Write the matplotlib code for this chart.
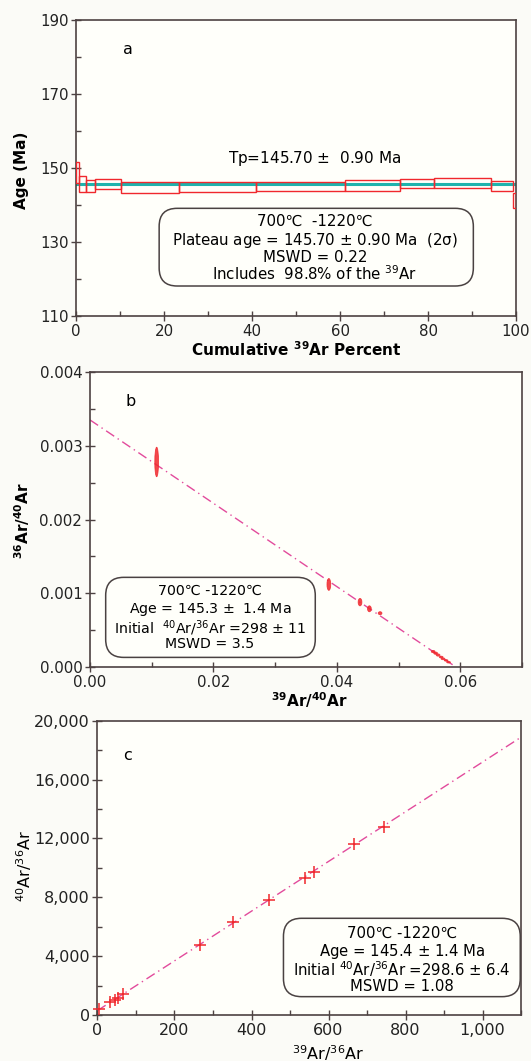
import numpy as np
import matplotlib
matplotlib.use("Agg")
import matplotlib.pyplot as plt
from matplotlib.patches import Rectangle, Ellipse, FancyBboxPatch
from matplotlib.ticker import MultipleLocator, FuncFormatter

plt.rcParams['font.family'] = ['DejaVu Sans']
plt.rcParams['mathtext.fontset'] = 'dejavusans'

# ---- a: age spectrum ----
step_bounds = [0, 0.7, 2.2, 4.3, 10.2, 23.5, 41.0, 61.1, 73.7, 81.3, 94.4, 99.2, 100]
step_ages = [148.8, 145.75, 145.2, 145.65, 144.7, 144.95, 145.05, 145.35, 145.8, 145.9, 145.2, 141.2]
step_errs = [2.8, 2.15, 1.6, 1.45, 1.4, 1.35, 1.25, 1.45, 1.3, 1.4, 1.3, 2.1]
plateau_age = 145.70
age_ticks = [110, 130, 150, 170, 190]

# ---- b: inverse isochron 36Ar/40Ar vs 39Ar/40Ar ----
inv_x = [0.0108, 0.0387, 0.04375, 0.04527, 0.0470, 0.0556, 0.0560, 0.0564, 0.0569, 0.0572, 0.0577, 0.0581]
inv_y = [0.00278, 0.00112, 0.00088, 0.00079, 0.00073, 0.00021, 0.000188, 0.000163, 0.000135, 0.000112, 0.00009, 0.000065]
inv_h = [0.0002, 0.00008, 0.00005, 0.00004, 0.00002, 0.000015, 0.000015, 0.000015, 0.000012, 0.000012, 0.00001, 0.00001]
inv_line_x = [0.0, 0.0593]
inv_line_y = [0.00335, 0.0]

# ---- c: normal isochron 40Ar/36Ar vs 39Ar/36Ar ----
iso_x = [4, 33, 46, 54, 67, 267, 353, 446, 538, 562, 667, 744]
iso_y = [380, 905, 1020, 1175, 1430, 4760, 6300, 7815, 9290, 9720, 11600, 12800]
iso_line_x = [0, 1100]
iso_line_y = [299, 18880]

bg = '#fffffa'
spine_c = '#4d4242'
red = '#f0282d'
pink = '#e24b9c'

fig = plt.figure(figsize=(5.31, 10.61), dpi=100, facecolor='#fbfbf7')
ax1 = fig.add_axes([0.1431, 0.7022, 0.8287, 0.2789])
ax2 = fig.add_axes([0.1695, 0.3713, 0.8136, 0.2781])
ax3 = fig.add_axes([0.1836, 0.0434, 0.7976, 0.2773])


def style(ax, lsize=10.8):
    ax.set_facecolor(bg)
    for s in ax.spines.values():
        s.set_color(spine_c)
        s.set_linewidth(1.2)
    ax.tick_params(which='major', direction='inout', length=7, width=1, color=spine_c,
                   labelsize=lsize, labelcolor='#222222', pad=2)
    ax.tick_params(which='minor', direction='in', length=3.5, width=1, color=spine_c)


def rbox(ax, x0, y0, x1, y1, rad=0.18):
    (px0, py0), (px1, py1) = ax.transData.transform([(x0, y0), (x1, y1)])
    d = fig.dpi
    box = FancyBboxPatch((px0 / d, py0 / d), (px1 - px0) / d, (py1 - py0) / d,
                         boxstyle=f"round,pad=0,rounding_size={rad}",
                         transform=fig.dpi_scale_trans, fc='none', ec='#4a4242', lw=1.1)
    fig.add_artist(box)


# ---------- panel a ----------
style(ax1)
ax1.set_xlim(0, 100)
ax1.set_ylim(110, 190)
for i in range(len(step_ages)):
    x0, x1 = step_bounds[i], step_bounds[i + 1]
    ax1.add_patch(Rectangle((x0, step_ages[i] - step_errs[i]), x1 - x0, 2 * step_errs[i],
                            fc='none', ec=red, lw=1.0, zorder=3))
ax1.axhline(plateau_age, color='#1fb3ad', lw=2.2, zorder=2)
ax1.xaxis.set_major_locator(MultipleLocator(20))
ax1.xaxis.set_minor_locator(MultipleLocator(10))
ax1.set_yticks(age_ticks)
ax1.yaxis.set_minor_locator(MultipleLocator(10))
ax1.text(11.8, 182.1, 'a', fontsize=11.5, ha='center', va='center')
ax1.text(54.3, 152.5, 'Tp=145.70 $\\pm$  0.90 Ma', fontsize=11, ha='center', va='center')
rbox(ax1, 18.9, 118.1, 90.3, 139.1)
a_lines = ['700\u2103  -1220\u2103', 'Plateau age = 145.70 $\\pm$ 0.90 Ma  (2\u03c3)',
           'MSWD = 0.22', 'Includes  98.8% of the $^{39}$Ar']
for t, yy in zip(a_lines, [135.5, 130.4, 125.8, 121.5]):
    ax1.text(54.3, yy, t, fontsize=10.8, ha='center', va='center')
ax1.set_xlabel('Cumulative $^{\\mathbf{39}}$Ar Percent', fontsize=11, fontweight='bold')
ax1.xaxis.set_label_coords(0.5, -0.115)
ax1.xaxis.label.set_va('center')
ax1.set_ylabel('Age (Ma)', fontsize=11, fontweight='bold')
ax1.yaxis.set_label_coords(-0.123, 0.493)
ax1.yaxis.label.set_va('center')

# ---------- panel b ----------
style(ax2, 10.8)
ax2.set_xlim(0, 0.07)
ax2.set_ylim(0, 0.004)
ax2.plot(inv_line_x, inv_line_y, color=pink, lw=1.0, ls=(0, (7, 3, 1, 3)), zorder=2)
for x, y, h in zip(inv_x, inv_y, inv_h):
    ax2.add_patch(Ellipse((x, y), 0.0006, 2 * h, fc=red, ec=red, lw=0.6, alpha=0.85, zorder=3))
ax2.xaxis.set_major_locator(MultipleLocator(0.02))
ax2.xaxis.set_minor_locator(MultipleLocator(0.01))
ax2.yaxis.set_major_locator(MultipleLocator(0.001))
ax2.yaxis.set_minor_locator(MultipleLocator(0.0005))
ax2.xaxis.set_major_formatter(FuncFormatter(lambda v, p: f'{v:.2f}'))
ax2.yaxis.set_major_formatter(FuncFormatter(lambda v, p: f'{v:.3f}'))
ax2.text(0.00654, 0.0036, 'b', fontsize=11.5, ha='center', va='center')
rbox(ax2, 0.00254, 0.000131, 0.0365, 0.001216)
b_lines = ['700\u2103 -1220\u2103', 'Age = 145.3 $\\pm$  1.4 Ma',
           'Initial  $^{40}$Ar/$^{36}$Ar =298 $\\pm$ 11', 'MSWD = 3.5']
for t, yy in zip(b_lines, [0.001035, 0.000782, 0.000533, 0.000307]):
    ax2.text(0.01944, yy, t, fontsize=10.2, ha='center', va='center')
ax2.set_xlabel('$^{\\mathbf{39}}$Ar/$^{\\mathbf{40}}$Ar', fontsize=11, fontweight='bold')
ax2.xaxis.set_label_coords(0.507, -0.112)
ax2.xaxis.label.set_va('center')
ax2.set_ylabel('$^{\\mathbf{36}}$Ar/$^{\\mathbf{40}}$Ar', fontsize=11, fontweight='bold')
ax2.yaxis.set_label_coords(-0.157, 0.496)
ax2.yaxis.label.set_va('center')

# ---------- panel c ----------
style(ax3, 11.5)
ax3.set_xlim(0, 1100)
ax3.set_ylim(0, 20000)
ax3.plot(iso_line_x, iso_line_y, color=pink, lw=1.0, ls=(0, (7, 3, 1, 3)), zorder=2)
ax3.plot(iso_x, iso_y, ls='none', marker='+', ms=9, mew=1.1, color=red, zorder=3, clip_on=False)
ax3.xaxis.set_major_locator(MultipleLocator(200))
ax3.xaxis.set_minor_locator(MultipleLocator(100))
ax3.yaxis.set_major_locator(MultipleLocator(4000))
ax3.yaxis.set_minor_locator(MultipleLocator(2000))
ax3.xaxis.set_major_formatter(FuncFormatter(lambda v, p: f'{v:,.0f}'))
ax3.yaxis.set_major_formatter(FuncFormatter(lambda v, p: f'{v:,.0f}'))
ax3.text(77, 17620, 'c', fontsize=11.5, ha='center', va='center')
rbox(ax3, 483, 1244, 1098, 6570)
c_lines = ['700\u2103 -1220\u2103', 'Age = 145.4 $\\pm$ 1.4 Ma',
           'Initial $^{40}$Ar/$^{36}$Ar =298.6 $\\pm$ 6.4', 'MSWD = 1.08']
for t, yy in zip(c_lines, [5552, 4302, 3106, 1923]):
    ax3.text(790, yy, t, fontsize=10.7, ha='center', va='center')
ax3.set_xlabel('$^{39}$Ar/$^{36}$Ar', fontsize=11.5)
ax3.xaxis.set_label_coords(0.545, -0.129)
ax3.xaxis.label.set_va('center')
ax3.set_ylabel('$^{40}$Ar/$^{36}$Ar', fontsize=11.5)
ax3.yaxis.set_label_coords(-0.173, 0.507)
ax3.yaxis.label.set_va('center')

fig.savefig('out.png', dpi=100, facecolor=fig.get_facecolor())
